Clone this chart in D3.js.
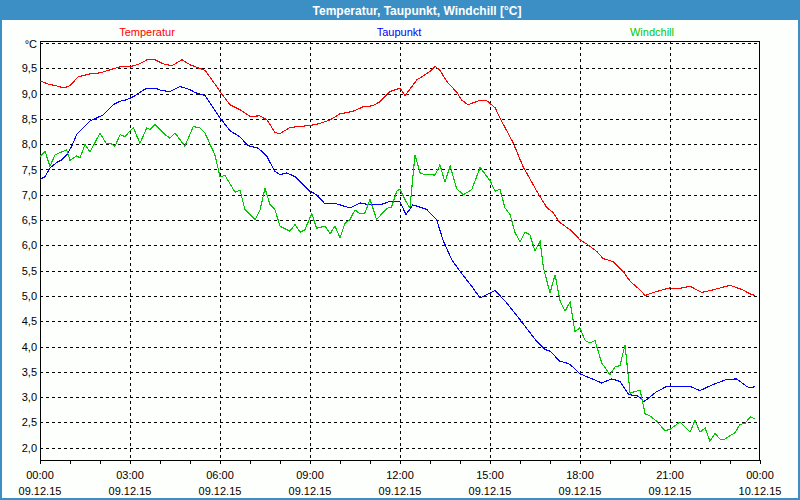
<!DOCTYPE html>
<html><head><meta charset="utf-8">
<script src="https://cdn.jsdelivr.net/npm/d3@7"></script>
<style>
html,body{margin:0;padding:0;background:#fff;}
svg{display:block;}
text{font-family:"Liberation Sans",Arial,sans-serif;}
</style></head>
<body>
<svg id="c" width="800" height="500"></svg>
<script>
const title = "Temperatur, Taupunkt, Windchill [°C]";
const seriesNames = ["Temperatur", "Taupunkt", "Windchill"];
const seriesColors = ["#ff0000", "#0000ff", "#00c800"];
const yTicks = [2.0,2.5,3.0,3.5,4.0,4.5,5.0,5.5,6.0,6.5,7.0,7.5,8.0,8.5,9.0,9.5];
const xTickHours = [0,3,6,9,12,15,18,21,24];
const xTickTimes = ["00:00","03:00","06:00","09:00","12:00","15:00","18:00","21:00","00:00"];
const xTickDates = ["09.12.15","09.12.15","09.12.15","09.12.15","09.12.15","09.12.15","09.12.15","09.12.15","10.12.15"];

// [hour, value]
const temperatur = [[0,9.25],[0.27,9.19],[0.57,9.15],[0.8,9.11],[1.0,9.16],[1.27,9.33],[1.67,9.39],[2.0,9.41],[2.33,9.47],[2.67,9.53],[3.0,9.53],[3.33,9.59],[3.57,9.67],[3.83,9.67],[4.1,9.59],[4.4,9.55],[4.73,9.67],[5.0,9.57],[5.5,9.46],[5.77,9.24],[6.0,9.04],[6.33,8.78],[6.67,8.68],[7.0,8.55],[7.33,8.56],[7.57,8.48],[7.83,8.23],[8.0,8.21],[8.33,8.33],[9.0,8.37],[9.33,8.41],[9.67,8.48],[10.0,8.6],[10.43,8.65],[10.77,8.74],[11.1,8.76],[11.33,8.84],[11.67,9.04],[12.0,9.11],[12.17,8.96],[12.56,9.27],[13.0,9.44],[13.17,9.54],[13.33,9.46],[13.56,9.24],[13.9,9.02],[14.06,8.87],[14.27,8.78],[14.67,8.87],[14.89,8.86],[15.17,8.72],[15.33,8.52],[15.77,8.03],[16.1,7.56],[16.56,7.07],[16.89,6.75],[17.1,6.65],[17.33,6.45],[17.67,6.31],[18.0,6.11],[18.22,6.03],[18.56,5.88],[18.77,5.74],[19.1,5.68],[19.43,5.49],[19.67,5.29],[20.0,5.12],[20.17,5.01],[20.56,5.09],[21.0,5.16],[21.22,5.14],[21.67,5.19],[22.06,5.07],[22.43,5.12],[23.0,5.21],[23.43,5.12],[23.67,5.04],[23.83,5.01]];

const taupunkt = [[0,7.3],[0.17,7.36],[0.33,7.53],[0.56,7.64],[0.72,7.69],[0.89,7.79],[1.06,7.96],[1.22,8.19],[1.44,8.32],[1.67,8.46],[1.89,8.52],[2.11,8.58],[2.44,8.78],[2.67,8.85],[2.89,8.88],[3.11,8.94],[3.5,9.09],[3.83,9.11],[4.06,9.06],[4.33,9.04],[4.67,9.14],[5.0,9.08],[5.17,9.02],[5.5,8.96],[5.67,8.81],[6.0,8.52],[6.33,8.27],[6.67,8.14],[6.94,7.97],[7.28,7.92],[7.56,7.76],[7.83,7.46],[8.0,7.4],[8.22,7.43],[8.5,7.36],[9.0,7.07],[9.22,7.0],[9.5,6.82],[9.89,6.82],[10.33,6.74],[10.67,6.84],[11.0,6.8],[11.33,6.8],[11.67,6.87],[12.0,6.86],[12.2,6.61],[12.43,6.8],[12.89,6.71],[13.22,6.51],[13.43,6.11],[13.72,5.72],[14.0,5.49],[14.39,5.19],[14.67,4.96],[15.17,5.11],[15.56,4.86],[16.0,4.53],[16.56,4.1],[16.83,3.94],[17.0,3.91],[17.33,3.71],[17.63,3.66],[17.8,3.58],[18.0,3.46],[18.33,3.38],[18.72,3.28],[19.06,3.36],[19.33,3.31],[19.63,3.05],[19.93,3.02],[20.13,2.91],[20.56,3.11],[20.89,3.21],[21.33,3.21],[21.67,3.21],[22.0,3.13],[22.44,3.25],[22.89,3.35],[23.22,3.36],[23.56,3.21],[23.67,3.18],[23.83,3.21]];

const windchill = [[0,7.76],[0.17,7.86],[0.33,7.56],[0.5,7.79],[0.78,7.86],[0.89,7.89],[1.0,7.68],[1.22,7.77],[1.33,7.73],[1.5,7.99],[1.67,7.85],[2.0,8.22],[2.2,8.02],[2.33,8.02],[2.5,7.96],[2.67,8.19],[2.83,8.15],[3.11,8.33],[3.33,8.02],[3.56,8.32],[3.67,8.29],[3.83,8.39],[4.17,8.19],[4.33,8.12],[4.5,8.22],[4.83,7.96],[5.11,8.35],[5.33,8.32],[5.5,8.22],[5.83,7.79],[6.0,7.36],[6.17,7.38],[6.5,7.05],[6.67,7.09],[6.83,6.71],[7.17,6.51],[7.33,6.69],[7.5,7.13],[7.67,6.8],[7.83,6.71],[8.0,6.38],[8.33,6.28],[8.5,6.41],[8.67,6.26],[8.83,6.31],[9.06,6.63],[9.22,6.34],[9.5,6.38],[9.67,6.23],[9.83,6.38],[10.0,6.15],[10.17,6.44],[10.33,6.51],[10.5,6.7],[10.67,6.62],[10.83,6.64],[11.0,6.91],[11.22,6.51],[11.56,6.73],[11.72,6.76],[11.89,7.07],[12.0,7.11],[12.17,6.9],[12.33,6.74],[12.5,7.79],[12.67,7.43],[12.83,7.4],[13.17,7.39],[13.33,7.59],[13.5,7.25],[13.67,7.57],[13.89,7.12],[14.11,7.0],[14.39,7.1],[14.67,7.54],[15.0,7.28],[15.17,7.07],[15.33,7.11],[15.5,6.74],[15.67,6.61],[15.83,6.26],[16.0,6.07],[16.17,6.26],[16.33,6.21],[16.5,5.89],[16.67,6.08],[16.78,5.56],[17.0,5.06],[17.17,5.42],[17.33,4.91],[17.5,4.7],[17.67,4.88],[17.83,4.3],[18.0,4.37],[18.17,4.12],[18.33,4.07],[18.5,4.12],[18.72,3.68],[19.0,3.44],[19.17,3.6],[19.33,3.62],[19.5,4.03],[19.67,3.08],[20.0,3.14],[20.17,2.67],[20.33,2.63],[20.56,2.52],[20.83,2.34],[21.0,2.36],[21.33,2.51],[21.67,2.31],[21.83,2.54],[22.0,2.31],[22.17,2.39],[22.33,2.13],[22.5,2.28],[22.67,2.17],[22.83,2.17],[23.17,2.3],[23.33,2.46],[23.5,2.48],[23.67,2.61],[23.83,2.57]];

const svg = d3.select("#c");
const W = 800, H = 500;
const L = 40, R = 760, T = 41, B = 460;

// window frame
svg.append("rect").attr("x",0).attr("y",0).attr("width",W).attr("height",H).attr("fill","#3c8fc4");
svg.append("rect").attr("x",2).attr("y",20).attr("width",W-4).attr("height",H-22).attr("fill","#fdfffd");
svg.append("text").attr("x",417).attr("y",15).attr("text-anchor","middle")
  .attr("fill","#ffffff").attr("font-weight","bold").attr("font-size","12px").text(title);

const x = d3.scaleLinear().domain([0,24]).range([L,R]);
const y = d3.scaleLinear().domain([1.757,10.04]).range([B,T]);

// grid
const g = svg.append("g").attr("shape-rendering","crispEdges");
g.selectAll(".hg").data(yTicks.concat([10])).join("line")
  .attr("x1",L).attr("x2",R-3).attr("y1",d=>Math.round(y(d))+0.5).attr("y2",d=>Math.round(y(d))+0.5)
  .attr("stroke","#000").attr("stroke-dasharray","3,3");
g.selectAll(".vg").data(xTickHours.slice(1,-1)).join("line")
  .attr("y1",T).attr("y2",B).attr("x1",d=>Math.round(x(d))+0.5).attr("x2",d=>Math.round(x(d))+0.5)
  .attr("stroke","#000").attr("stroke-dasharray","3,3");

// lines
const line = d3.line().x(d=>x(d[0])).y(d=>y(d[1]));
[temperatur, taupunkt, windchill].forEach((s,i)=>{
  svg.append("path").datum(s).attr("d",line).attr("fill","none")
    .attr("stroke",seriesColors[i]).attr("stroke-width",1.1).attr("shape-rendering","crispEdges");
});

// frame
g.append("rect").attr("x",L+0.5).attr("y",T+0.5).attr("width",R-L-1).attr("height",B-T)
  .attr("fill","none").attr("stroke","#000").attr("stroke-width",1.5);

// x axis
const xAxis = d3.axisBottom(x).tickValues(d3.range(0,25,1)).tickSize(4).tickFormat("");
const ax = svg.append("g").attr("transform",`translate(0,${B})`).call(xAxis);
ax.select(".domain").remove();
ax.selectAll("line").attr("stroke","#000").attr("shape-rendering","crispEdges");

const xl = svg.append("g");
xl.selectAll(".t1").data(xTickHours).join("text")
  .attr("x",d=>x(d)).attr("y",479).attr("text-anchor","middle").attr("font-size","11px").attr("fill","#000")
  .text((d,i)=>xTickTimes[i]);
xl.selectAll(".t2").data(xTickHours).join("text")
  .attr("x",d=>x(d)).attr("y",495).attr("text-anchor","middle").attr("font-size","11px").attr("fill","#000")
  .text((d,i)=>xTickDates[i]);

// y labels
const yAxis = d3.axisLeft(y).tickValues(yTicks).tickSize(0).tickPadding(3)
  .tickFormat(d=>d3.format(".1f")(d).replace(".",","));
const ay = svg.append("g").attr("transform",`translate(${L},0)`).call(yAxis);
ay.select(".domain").remove();
ay.selectAll("text").attr("font-size","11px").attr("fill","#000").attr("font-family","Liberation Sans, Arial, sans-serif");
svg.append("text").attr("x",37).attr("y",y(10)+5).attr("text-anchor","end").attr("font-size","11px").text("°C");

// legend
const legendX = [147, 399, 652];
svg.selectAll(".lg").data(seriesNames).join("text")
  .attr("x",(d,i)=>legendX[i]).attr("y",36).attr("text-anchor","middle").attr("font-size","11px")
  .attr("fill",(d,i)=>seriesColors[i]).text(d=>d);
</script>
</body></html>
